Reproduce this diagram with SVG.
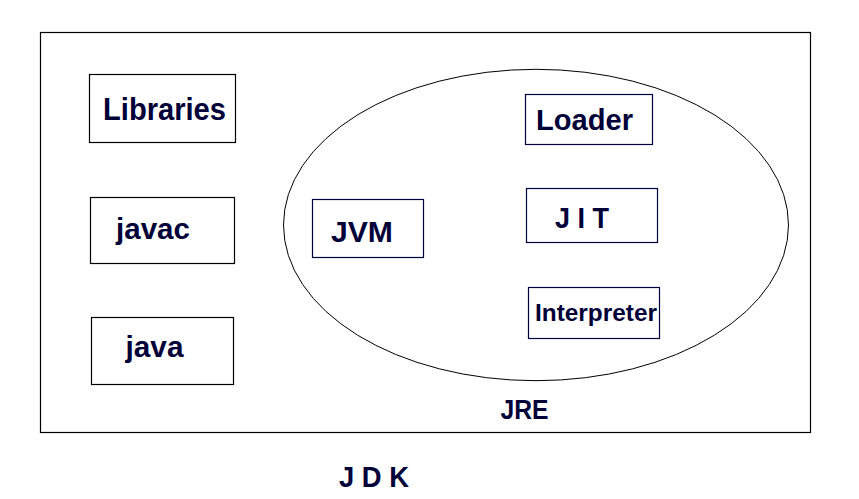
<svg xmlns="http://www.w3.org/2000/svg" width="859" height="499" viewBox="0 0 859 499">
<style>
.outer{fill:none;stroke:#000;stroke-width:1.2}
.box{fill:#fff;stroke:#000;stroke-width:1.2}
.ibox{fill:#fff;stroke:#000040;stroke-width:1.2}
.ell{fill:none;stroke:#000;stroke-width:1}
.t{font-family:"Liberation Sans",Arial,sans-serif;font-weight:bold;fill:#000038}
</style>
<rect width="859" height="499" fill="#fff"/>
<g id="jdk">
<rect class="outer" x="40.5" y="32.5" width="770" height="400"/>
<text class="t" x="339" y="487" font-size="30" textLength="70" lengthAdjust="spacingAndGlyphs">J D K</text>
</g>
<g id="jre">
<ellipse class="ell" cx="536" cy="225" rx="252.5" ry="155.7"/>
<text class="t" x="500.5" y="418.5" font-size="27.5" textLength="48" lengthAdjust="spacingAndGlyphs">JRE</text>
</g>
<g id="libraries">
<rect class="box" x="89.5" y="74.5" width="146" height="68"/>
<text class="t" x="103" y="120" font-size="31" textLength="123" lengthAdjust="spacingAndGlyphs">Libraries</text>
</g>
<g id="javac">
<rect class="box" x="90.5" y="197.5" width="144" height="66"/>
<text class="t" x="116" y="239" font-size="30" textLength="74" lengthAdjust="spacingAndGlyphs">javac</text>
</g>
<g id="java">
<rect class="box" x="91.5" y="317.5" width="142" height="67"/>
<text class="t" x="125.5" y="357" font-size="30" textLength="58" lengthAdjust="spacingAndGlyphs">java</text>
</g>
<g id="jvm">
<rect class="ibox" x="312.5" y="199.5" width="111" height="58"/>
<text class="t" x="331" y="242" font-size="29.5" textLength="62" lengthAdjust="spacingAndGlyphs">JVM</text>
</g>
<g id="loader">
<rect class="ibox" x="525.5" y="94.5" width="127" height="50"/>
<text class="t" x="536" y="130" font-size="30" textLength="97" lengthAdjust="spacingAndGlyphs">Loader</text>
</g>
<g id="jit">
<rect class="ibox" x="526.5" y="188.5" width="131" height="54"/>
<text class="t" x="555" y="228" font-size="30" textLength="54" lengthAdjust="spacingAndGlyphs">J I T</text>
</g>
<g id="interpreter">
<rect class="ibox" x="528.5" y="287.5" width="131" height="51"/>
<text class="t" x="535" y="320.5" font-size="23" textLength="122" lengthAdjust="spacingAndGlyphs">Interpreter</text>
</g>
<g id="connectors"></g>
</svg>
